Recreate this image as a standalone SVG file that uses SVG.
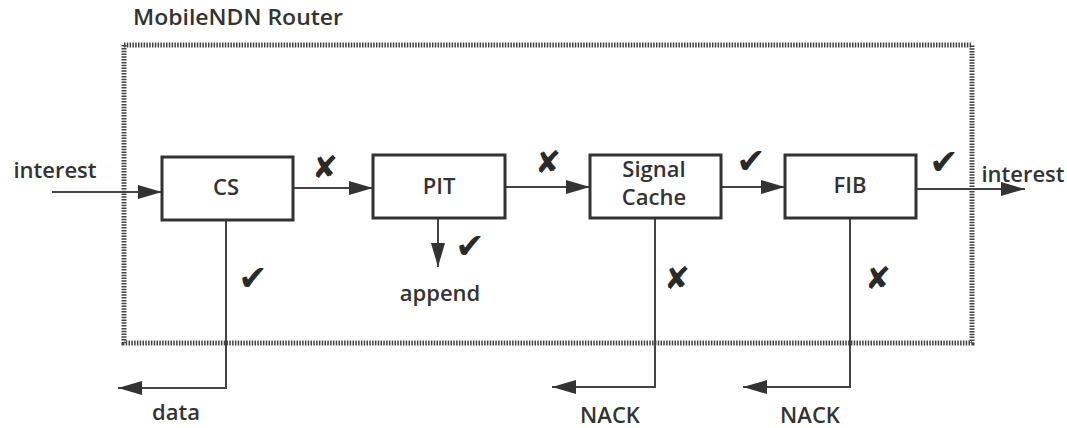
<svg xmlns="http://www.w3.org/2000/svg" width="1067" height="428" viewBox="0 0 1067 428">
  <style>
    .lbl { font-family: "Open Sans", "Liberation Sans", sans-serif; font-size: 22px; font-weight: 600; fill: #333; text-anchor: middle; }
    .box { fill: #fff; stroke: #333; stroke-width: 3; }
    .wire { fill: none; stroke: #444; stroke-width: 2; }
    .mark { font-family: "DejaVu Sans", sans-serif; fill: #2a2a2a; text-anchor: middle; }
    .no { font-size: 31px; }
    .ok { font-size: 35px; }
    .frame { fill: none; stroke: #444; stroke-width: 5; stroke-dasharray: 1.5 1.3; }
  </style>
  <defs>
    <marker id="arrow" viewBox="0 0 10 10" refX="10" refY="5" markerWidth="24" markerHeight="14" markerUnits="userSpaceOnUse" orient="auto" preserveAspectRatio="none">
      <path d="M0,0 L10,5 L0,10 z" fill="#333"/>
    </marker>
  </defs>

  <rect width="1067" height="428" fill="#fff"/>

  <!-- router boundary -->
  <g id="router">
    <rect class="frame" x="124" y="45" width="848" height="298"/>
    <text class="lbl" x="238" y="25" textLength="210" lengthAdjust="spacingAndGlyphs">MobileNDN Router</text>
  </g>

  <!-- connectors -->
  <g id="connectors">
    <line class="wire" x1="52" y1="192" x2="162" y2="192" marker-end="url(#arrow)"/>
    <line class="wire" x1="293" y1="188" x2="373" y2="188" marker-end="url(#arrow)"/>
    <line class="wire" x1="505" y1="187" x2="590" y2="187" marker-end="url(#arrow)"/>
    <line class="wire" x1="721" y1="187" x2="785" y2="187" marker-end="url(#arrow)"/>
    <line class="wire" x1="916" y1="189" x2="1025" y2="189" marker-end="url(#arrow)"/>
    <line class="wire" x1="438" y1="218" x2="438" y2="267" marker-end="url(#arrow)"/>
    <polyline class="wire" points="226,220 226,388 118,388" marker-end="url(#arrow)"/>
    <polyline class="wire" points="655,218 655,387 552,387" marker-end="url(#arrow)"/>
    <polyline class="wire" points="850,218 850,387 743,387" marker-end="url(#arrow)"/>

    <!-- pass / fail marks -->
    <text class="mark no" x="325" y="178">✘</text>
    <text class="mark no" x="548" y="173">✘</text>
    <text class="mark ok" x="751" y="173">✔</text>
    <text class="mark ok" x="944" y="174">✔</text>
    <text class="mark ok" x="253" y="290">✔</text>
    <text class="mark ok" x="470" y="258">✔</text>
    <text class="mark no" x="677" y="289">✘</text>
    <text class="mark no" x="878" y="289">✘</text>

    <text class="lbl" x="55" y="178">interest</text>
    <text class="lbl" x="1023" y="182">interest</text>
    <text class="lbl" x="176" y="420">data</text>
    <text class="lbl" x="440" y="301">append</text>
    <text class="lbl" x="610" y="423">NACK</text>
    <text class="lbl" x="810" y="423">NACK</text>
  </g>

  <g id="cs">
    <rect class="box" x="162" y="157" width="131" height="63"/>
    <text class="lbl" x="226" y="195">CS</text>
  </g>
  <g id="pit">
    <rect class="box" x="373" y="155" width="132" height="63"/>
    <text class="lbl" x="439" y="194">PIT</text>
  </g>
  <g id="signal-cache">
    <rect class="box" x="590" y="155" width="131" height="63"/>
    <text class="lbl" font-size="18"><tspan x="654" y="177">Signal</tspan><tspan x="654" y="205">Cache</tspan></text>
  </g>
  <g id="fib">
    <rect class="box" x="785" y="155" width="131" height="63"/>
    <text class="lbl" x="850" y="193">FIB</text>
  </g>
</svg>
